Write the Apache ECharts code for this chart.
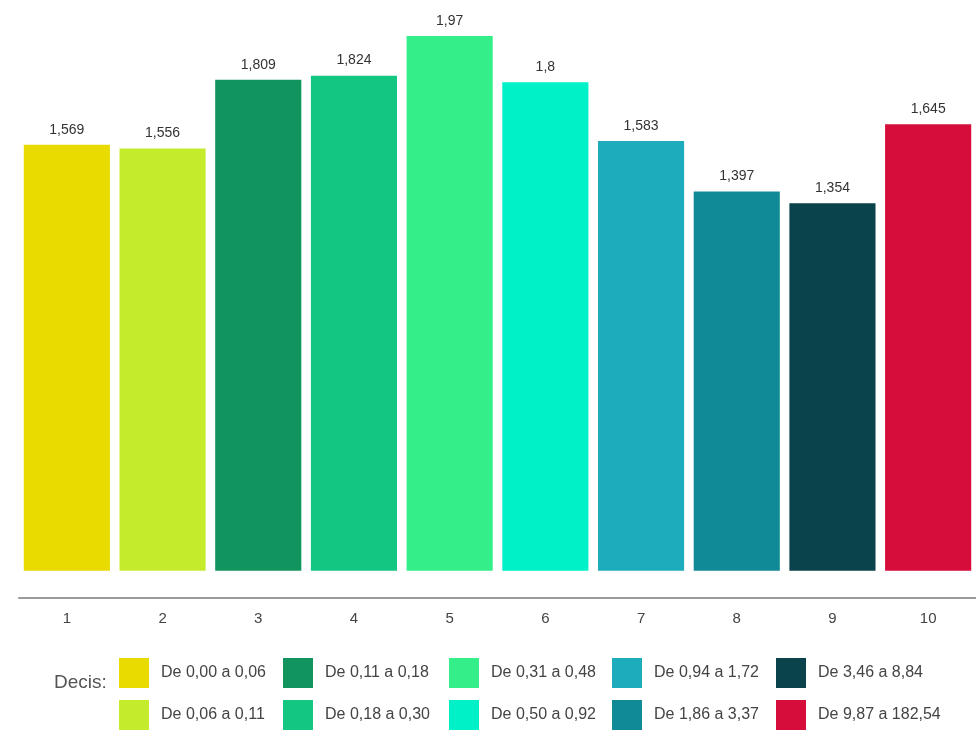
<!DOCTYPE html>
<html>
<head>
<meta charset="utf-8">
<script src="https://cdn.jsdelivr.net/npm/echarts@6/dist/echarts.min.js"></script>
<style>html,body{margin:0;padding:0;background:#fff}#c{width:976px;height:731px}</style>
</head>
<body>
<div id="c"></div>
<script>
var categories = ['1','2','3','4','5','6','7','8','9','10'];
var values = [1.569, 1.556, 1.809, 1.824, 1.97, 1.8, 1.583, 1.397, 1.354, 1.645];
var legendNames = ['De 0,00 a 0,06','De 0,06 a 0,11','De 0,11 a 0,18','De 0,18 a 0,30','De 0,31 a 0,48','De 0,50 a 0,92','De 0,94 a 1,72','De 1,86 a 3,37','De 3,46 a 8,84','De 9,87 a 182,54'];
var colors = ['#E9DA00','#C4EC2C','#12945E','#13C682','#34EF89','#00F0C8','#1DACBC','#118A98','#0B434C','#D60D3A'];

var chart = echarts.init(document.getElementById('c'));
var series = values.map(function(v, i){
  var d = categories.map(function(c, j){ return j === i ? v : null; });
  return {
    name: legendNames[i], type: 'bar', stack: 'all', data: d,
    barWidth: '90%',
    itemStyle: { color: colors[i] },
    label: { show: true, position: 'top', distance: 8, color: '#333', fontSize: 14, fontFamily: 'Liberation Sans',
      formatter: function(p){ return String(p.value).replace('.', ','); } }
  };
});
var legendLefts = [119, 283, 449, 612, 776];
var legends = legendLefts.map(function(l, k){
  return {
    orient: 'vertical', left: l, top: 658, itemWidth: 30, itemHeight: 30, itemGap: 12,
    padding: 0, height: 73,
    icon: 'rect', selectedMode: false,
    data: [legendNames[2*k], legendNames[2*k+1]],
    textStyle: { color: '#444', fontSize: 16, fontFamily: 'Liberation Sans', padding: [0,0,0,7] }
  };
});
chart.setOption({
  animation: false,
  grid: { left: 19, right: -3, top: 36, bottom: 133 },
  title: { text: 'Decis:', left: 49, top: 668, textStyle: { color: '#555', fontSize: 19, fontWeight: 'normal', fontFamily: 'Liberation Sans' } },
  legend: legends,
  xAxis: {
    type: 'category', data: categories,
    axisLine: { show: true, onZero: false, lineStyle: { color: '#999', width: 2 } },
    axisTick: { show: false },
    axisLabel: { color: '#444', fontSize: 15, margin: 13, fontFamily: 'Liberation Sans' }
  },
  yAxis: { type: 'value', min: -0.1, max: Math.max.apply(null, values), show: false, splitLine: { show: false } },
  series: series
});
</script>
</body>
</html>
